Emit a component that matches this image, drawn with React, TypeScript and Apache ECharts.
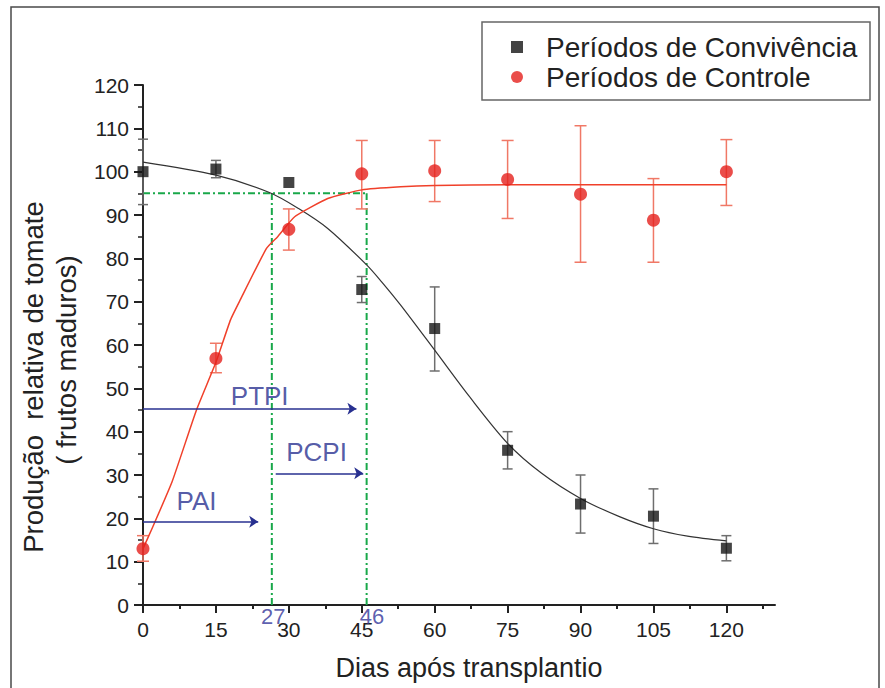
import React, { useEffect, useRef } from "react";
import * as echarts from "echarts";

// ---------- data ----------
const days = [0, 15, 30, 45, 60, 75, 90, 105, 120];

const convivencia = [100, 100.6, 97.5, 72.8, 63.8, 35.7, 23.3, 20.5, 13.1];
const convivenciaLow = [92.4, 98.6, 97.5, 69.8, 54.0, 31.4, 16.6, 14.2, 10.2];
const convivenciaHigh = [107.5, 102.6, 97.5, 75.8, 73.4, 40.0, 30.0, 26.8, 16.0];

const controle = [13.0, 56.9, 86.7, 99.5, 100.2, 98.2, 94.8, 88.8, 100.0];
const controleLow = [10.1, 53.6, 81.9, 91.4, 93.1, 89.2, 79.1, 79.1, 92.2];
const controleHigh = [16.0, 60.4, 91.4, 107.2, 107.2, 107.2, 110.6, 98.4, 107.4];

// fitted curves
const convFitX = [0, 15, 26, 32, 38, 46, 49, 53, 60, 67, 75, 82, 90, 98, 105, 112, 120];
const convFitY = [102.2, 99.2, 95.2, 91.5, 86.9, 78.5, 74.7, 69.2, 58.8, 48.3, 37.3, 30.4, 24.6, 20.4, 17.6, 15.9, 14.8];
const ctrlFitX = [0, 2, 6, 11, 15, 18, 20, 25.4, 27.7, 31.2, 38, 45, 53, 60, 75, 120];
const ctrlFitY = [13, 18, 28.5, 45, 56, 65.8, 70.4, 82.3, 85, 89.6, 93.8, 95.8, 96.5, 96.8, 97, 97];

// reference lines
const criticalLevel = 95;
const paiEnd = 26.5;
const ptpiEnd = 46;

// arrows [x0, x1, y]
const arrowPTPI = [0, 43.9, 45.3];
const arrowPCPI = [27.3, 45.3, 30.4];
const arrowPAI = [0, 23.7, 19.2];

// annotation texts [label, x, y]
const annotations: [string, number, number][] = [
  ["PTPI", 24.0, 48.3],
  ["PCPI", 35.7, 35.2],
  ["PAI", 11.0, 24.0],
];
const dayMarks: [string, number, number][] = [
  ["27", 26.8, -2.6],
  ["46", 47.1, -2.6],
];

const xMajorTicks = [0, 15, 30, 45, 60, 75, 90, 105, 120];
const xMinorTicks = [7.5, 22.5, 37.5, 52.5, 67.5, 82.5, 97.5, 112.5, 127.5];

const seriesNames = ["Períodos de Convivência", "Períodos de Controle"];
const xName = "Dias após transplantio";
const yNameLine1 = "Produção  relativa de tomate";
const yNameLine2 = "( frutos maduros)";

const FONT = "'Liberation Sans', Arial, Helvetica, sans-serif";

export default function App() {
  const ref = useRef<HTMLDivElement>(null);

  useEffect(() => {
    if (!ref.current) return;
    const chart = echarts.init(ref.current, null, { renderer: "svg" });

    const errorBars = (low: number[], high: number[], color: string, cap: number) => ({
      type: "custom",
      silent: true,
      z: 2,
      clip: false,
      data: days.map((d, i) => [d, low[i], high[i]]),
      encode: { x: 0, y: [1, 2] },
      renderItem: (params: any, api: any) => {
        const x = api.value(0);
        const lo = api.value(1);
        const hi = api.value(2);
        if (hi - lo < 0.05) return { type: "group", children: [] };
        const a = api.coord([x, lo]);
        const b = api.coord([x, hi]);
        const st = { stroke: color, lineWidth: 1.5 };
        return {
          type: "group",
          children: [
            { type: "line", shape: { x1: a[0], y1: a[1], x2: b[0], y2: b[1] }, style: st },
            { type: "line", shape: { x1: a[0] - cap, y1: a[1], x2: a[0] + cap, y2: a[1] }, style: st },
            { type: "line", shape: { x1: b[0] - cap, y1: b[1], x2: b[0] + cap, y2: b[1] }, style: st },
          ],
        };
      },
    });

    const green = "#19a84a";
    const greenStyle = { color: green, width: 2, type: [7, 3, 2, 3] };
    const navy = "#283090";

    const option: any = {
      animation: false,
      textStyle: { fontFamily: FONT },
      grid: { left: 143, right: 110, top: 85, bottom: 83, containLabel: false },
      legend: {
        orient: "vertical",
        left: 511,
        top: 32,
        padding: 0,
        itemGap: 0,
        itemWidth: 48,
        itemHeight: 12,
        symbolKeepAspect: true,
        textStyle: { fontSize: 28, color: "#222", fontFamily: FONT, lineHeight: 30 },
        data: [
          { name: seriesNames[0], icon: "path://M0,0H10V10H0Z" },
          { name: seriesNames[1], icon: "path://M5,0A5,5 0 1,1 5,10A5,5 0 1,1 5,0Z" },
        ],
      },
      xAxis: [
        {
          type: "value",
          min: 0,
          max: 130,
          interval: 15,
          position: "bottom",
          name: xName,
          nameLocation: "middle",
          nameGap: 49,
          nameTextStyle: { fontSize: 27, color: "#222", fontFamily: FONT, padding: [0, 0, 0, 20] },
          axisLine: { show: true, lineStyle: { color: "#222", width: 2 } },
          axisTick: { show: true, length: 8, lineStyle: { color: "#222", width: 2 }, customValues: xMajorTicks },
          axisLabel: { fontSize: 21, color: "#222", margin: 14, customValues: xMajorTicks },
          splitLine: { show: false },
        },
        {
          type: "value",
          min: 0,
          max: 130,
          interval: 15,
          position: "bottom",
          offset: 0,
          axisLine: { show: false },
          axisTick: { show: true, length: 4, lineStyle: { color: "#222", width: 2 }, customValues: xMinorTicks },
          axisLabel: { show: false },
          splitLine: { show: false },
        },
      ],
      yAxis: {
        type: "value",
        min: 0,
        max: 120,
        interval: 10,
        axisLine: { show: true, lineStyle: { color: "#222", width: 2 } },
        axisTick: { show: true, length: 9, lineStyle: { color: "#222", width: 2 } },
        minorTick: { show: true, splitNumber: 2, length: 5, lineStyle: { color: "#222", width: 1.5 } },
        axisLabel: { fontSize: 21, color: "#222", margin: 14 },
        splitLine: { show: false },
        minorSplitLine: { show: false },
      },
      graphic: [
        {
          type: "rect",
          shape: { x: 11, y: 7, width: 868, height: 720 },
          style: { fill: "none", stroke: "#4a4a4a", lineWidth: 1.5 },
          silent: true,
          z: -1,
        },
        {
          type: "rect",
          shape: { x: 482, y: 22, width: 388, height: 78 },
          style: { fill: "#fff", stroke: "#666", lineWidth: 1.5 },
          silent: true,
          z: -1,
        },
        {
          type: "text",
          x: 33,
          y: 377,
          rotation: Math.PI / 2,
          style: {
            text: yNameLine1,
            font: `27.5px ${FONT}`,
            fill: "#222",
            align: "center",
            verticalAlign: "middle",
          },
          silent: true,
        },
        {
          type: "text",
          x: 66,
          y: 360,
          rotation: Math.PI / 2,
          style: {
            text: yNameLine2,
            font: `27.5px ${FONT}`,
            fill: "#222",
            align: "center",
            verticalAlign: "middle",
          },
          silent: true,
        },
      ],
      series: [
        // green reference lines
        {
          type: "line",
          silent: true,
          symbol: "none",
          z: 1,
          data: [[0, criticalLevel], [ptpiEnd, criticalLevel]],
          lineStyle: greenStyle,
        },
        {
          type: "line",
          silent: true,
          symbol: "none",
          z: 1,
          data: [[paiEnd, 0], [paiEnd, criticalLevel]],
          lineStyle: greenStyle,
        },
        {
          type: "line",
          silent: true,
          symbol: "none",
          z: 1,
          data: [[ptpiEnd, 0], [ptpiEnd, criticalLevel]],
          lineStyle: greenStyle,
        },
        // arrows
        {
          type: "line",
          silent: true,
          data: [],
          markLine: {
            silent: true,
            symbol: ["none", "arrow"],
            symbolSize: 9,
            label: { show: false },
            lineStyle: { color: navy, width: 1.5, type: "solid" },
            data: [arrowPTPI, arrowPCPI, arrowPAI].map((a) => [
              { coord: [a[0], a[2]] },
              { coord: [a[1], a[2]] },
            ]),
          },
        },
        // fitted curves
        {
          type: "line",
          silent: true,
          symbol: "none",
          smooth: 0.3,
          z: 3,
          data: convFitX.map((x, i) => [x, convFitY[i]]),
          lineStyle: { color: "#333", width: 1.2 },
        },
        {
          type: "line",
          silent: true,
          symbol: "none",
          smooth: 0.15,
          z: 3,
          data: ctrlFitX.map((x, i) => [x, ctrlFitY[i]]),
          lineStyle: { color: "#f0402a", width: 1.5 },
        },
        // error bars
        errorBars(convivenciaLow, convivenciaHigh, "#6e6e6e", 5),
        errorBars(controleLow, controleHigh, "#f07866", 6),
        // points
        {
          name: seriesNames[0],
          type: "scatter",
          symbol: "rect",
          symbolSize: 11,
          clip: false,
          z: 5,
          itemStyle: { color: "#151515" },
          data: days.map((d, i) => [d, convivencia[i]]),
        },
        {
          name: seriesNames[1],
          type: "scatter",
          symbol: "circle",
          symbolSize: 13,
          clip: false,
          z: 5,
          itemStyle: { color: "#e5201d" },
          data: days.map((d, i) => [d, controle[i]]),
        },
        // annotation texts
        {
          type: "scatter",
          silent: true,
          symbolSize: 0,
          clip: false,
          z: 6,
          data: annotations.map((a) => ({ name: a[0], value: [a[1], a[2]] })),
          label: {
            show: true,
            position: [0, 0],
            align: "center",
            verticalAlign: "middle",
            formatter: (p: any) => p.name,
            fontSize: 26,
            color: navy,
            fontFamily: FONT,
          },
        },
        {
          type: "scatter",
          silent: true,
          symbolSize: 0,
          clip: false,
          z: 6,
          data: dayMarks.map((a) => ({ name: a[0], value: [a[1], a[2]] })),
          label: {
            show: true,
            position: [0, 0],
            align: "center",
            verticalAlign: "middle",
            formatter: (p: any) => p.name,
            fontSize: 22,
            color: "#33359a",
            fontFamily: FONT,
          },
        },
      ],
    };

    chart.setOption(option);
    return () => chart.dispose();
  }, []);

  return (
    <div
      ref={ref}
      style={{ position: "fixed", left: 0, top: 0, width: 885, height: 688, background: "#fff" }}
    />
  );
}
